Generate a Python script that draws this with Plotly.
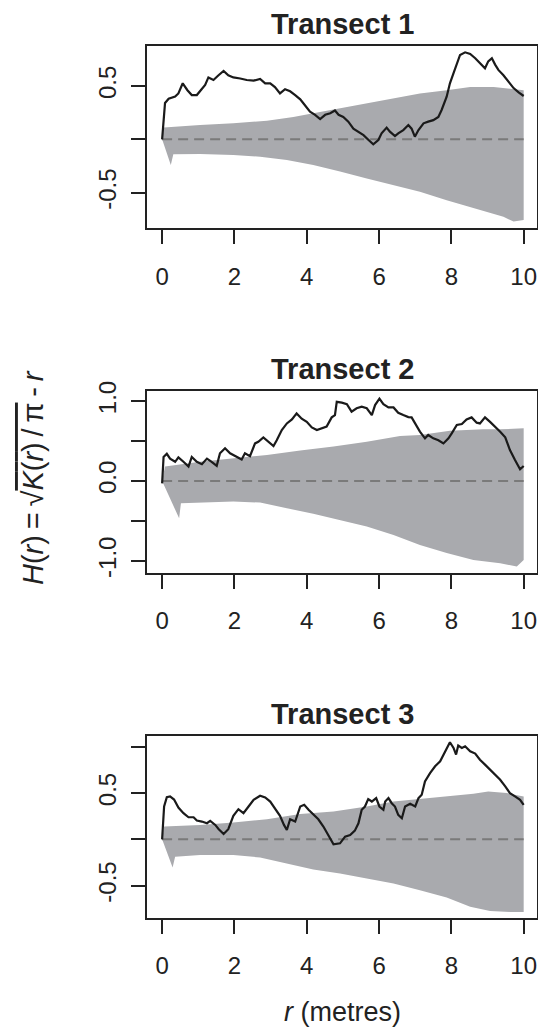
import plotly.graph_objects as go

# ---------------- data ----------------
titles = ["Transect 1", "Transect 2", "Transect 3"]
x_ticks = [0, 2, 4, 6, 8, 10]
x_ticktext = ["0", "2", "4", "6", "8", "10"]

# Transect 1 observed H(r)
r1 = [0, 0.08, 0.18, 0.36, 0.45, 0.57, 0.70, 0.82, 0.96, 1.05, 1.19, 1.28, 1.42, 1.56, 1.70, 1.83, 1.97,
      2.16, 2.34, 2.53, 2.71, 2.85, 2.99, 3.12, 3.26, 3.40, 3.54, 3.68, 3.82, 3.95, 4.09, 4.23, 4.37,
      4.51, 4.65, 4.78, 4.88, 5.01, 5.15, 5.29, 5.43, 5.57, 5.71, 5.84, 5.98, 6.07, 6.21, 6.30, 6.44,
      6.53, 6.67, 6.81, 6.90, 6.99, 7.09, 7.23, 7.36, 7.50, 7.64, 7.73, 7.87, 7.96, 8.06, 8.15, 8.24,
      8.38, 8.52, 8.66, 8.80, 8.93, 9.02, 9.12, 9.21, 9.30, 9.44, 9.58, 9.72, 9.86, 10.0]
h1 = [0, 0.34, 0.38, 0.40, 0.43, 0.525, 0.46, 0.415, 0.415, 0.45, 0.51, 0.58, 0.556, 0.60, 0.64, 0.60, 0.58,
      0.57, 0.556, 0.55, 0.566, 0.525, 0.525, 0.49, 0.43, 0.47, 0.45, 0.415, 0.375, 0.32, 0.26, 0.23, 0.19,
      0.23, 0.244, 0.27, 0.23, 0.21, 0.166, 0.10, 0.072, 0.04, -0.006, -0.047, -0.006, 0.056, 0.11, 0.072, 0.03,
      0.056, 0.087, 0.134, 0.10, 0.025, 0.087, 0.15, 0.166, 0.18, 0.21, 0.275, 0.40, 0.525, 0.62, 0.71, 0.79,
      0.815, 0.80, 0.76, 0.71, 0.666, 0.73, 0.76, 0.70, 0.65, 0.60, 0.54, 0.48, 0.44, 0.406]
# Transect 1 simulation envelope
env1_r_up = [0, 0.05, 1.05, 1.97, 2.9, 3.63, 4.18, 4.92, 5.66, 6.4, 7.13, 7.87, 8.52, 9.17, 9.72, 10]
env1_up = [0, 0.11, 0.134, 0.15, 0.175, 0.21, 0.244, 0.29, 0.34, 0.385, 0.43, 0.46, 0.49, 0.49, 0.47, 0.46]
env1_r_lo = [0, 0.24, 0.31, 1.05, 1.97, 2.71, 3.45, 4.18, 4.92, 5.66, 6.4, 7.13, 7.87, 8.52, 8.98, 9.44, 9.72, 10]
env1_lo = [0, -0.24, -0.14, -0.1375, -0.147, -0.1625, -0.194, -0.24, -0.30, -0.366, -0.43, -0.49, -0.57,
           -0.63, -0.68, -0.725, -0.77, -0.756]

# Transect 2 observed H(r)
r2 = [0, 0.04, 0.13, 0.22, 0.36, 0.45, 0.59, 0.73, 0.82, 0.96, 1.10, 1.24, 1.37, 1.51, 1.60, 1.74, 1.88,
      2.06, 2.20, 2.29, 2.43, 2.57, 2.66, 2.80, 2.94, 3.08, 3.17, 3.31, 3.45, 3.59, 3.72, 3.86, 4.00,
      4.14, 4.28, 4.41, 4.55, 4.69, 4.78, 4.83, 4.97, 5.11, 5.24, 5.38, 5.52, 5.66, 5.80, 5.89, 6.01,
      6.12, 6.26, 6.40, 6.53, 6.67, 6.81, 6.90, 6.99, 7.13, 7.27, 7.36, 7.50, 7.64, 7.78, 7.92, 8.01,
      8.15, 8.29, 8.42, 8.56, 8.70, 8.79, 8.93, 9.07, 9.21, 9.35, 9.49, 9.62, 9.76, 9.90, 10.0]
h2 = [-0.03, 0.30, 0.34, 0.28, 0.24, 0.296, 0.24, 0.18, 0.30, 0.24, 0.21, 0.28, 0.24, 0.19, 0.346, 0.41, 0.346,
      0.30, 0.27, 0.346, 0.31, 0.47, 0.49, 0.546, 0.49, 0.4375, 0.51, 0.6375, 0.72, 0.77, 0.846, 0.78, 0.74,
      0.67, 0.6375, 0.66, 0.68, 0.796, 0.825, 0.99, 0.98, 0.96, 0.867, 0.91, 0.93, 0.91, 0.825, 0.95, 1.03,
      0.96, 0.92, 0.92, 0.854, 0.825, 0.80, 0.796, 0.72, 0.617, 0.533, 0.575, 0.533, 0.51, 0.47, 0.533, 0.596,
      0.70, 0.7125, 0.77, 0.796, 0.73, 0.72, 0.796, 0.74, 0.68, 0.617, 0.546, 0.3875, 0.2625, 0.146, 0.1875]
env2_r_up = [0, 0.08, 1.05, 1.97, 2.9, 3.82, 4.74, 5.66, 6.58, 7.13, 7.96, 8.88, 9.35, 10]
env2_up = [0, 0.18, 0.24, 0.283, 0.325, 0.38, 0.43, 0.49, 0.5625, 0.575, 0.63, 0.646, 0.646, 0.66]
env2_r_lo = [0, 0.47, 0.52, 1.05, 1.97, 2.71, 3.45, 4.18, 4.92, 5.66, 6.4, 7.13, 7.87, 8.61, 9.35, 9.81, 10]
env2_lo = [0, -0.467, -0.28, -0.267, -0.258, -0.27, -0.34, -0.41, -0.4875, -0.57, -0.675, -0.80, -0.90,
           -0.99, -1.03, -1.07, -0.99]

# Transect 3 observed H(r)
r3 = [0, 0.055, 0.13, 0.22, 0.33, 0.45, 0.59, 0.73, 0.87, 0.96, 1.10, 1.24, 1.33, 1.47, 1.56, 1.70, 1.83,
      1.97, 2.11, 2.25, 2.39, 2.53, 2.71, 2.85, 2.99, 3.12, 3.26, 3.37, 3.45, 3.54, 3.68, 3.82, 3.93,
      4.05, 4.18, 4.32, 4.46, 4.60, 4.74, 4.92, 5.06, 5.20, 5.33, 5.43, 5.52, 5.61, 5.70, 5.80, 5.92,
      6.01, 6.12, 6.17, 6.26, 6.35, 6.44, 6.53, 6.63, 6.72, 6.86, 7.00, 7.09, 7.18, 7.27, 7.41, 7.55,
      7.69, 7.78, 7.87, 7.96, 8.06, 8.13, 8.19, 8.29, 8.38, 8.52, 8.66, 8.79, 8.93, 9.07, 9.21, 9.35,
      9.49, 9.62, 9.76, 9.90, 10.0]
h3 = [0, 0.355, 0.457, 0.464, 0.43, 0.344, 0.283, 0.239, 0.239, 0.203, 0.192, 0.174, 0.20, 0.156, 0.112, 0.058, 0.109,
      0.254, 0.326, 0.283, 0.355, 0.428, 0.471, 0.453, 0.409, 0.337, 0.254, 0.156, 0.101, 0.217, 0.192, 0.355, 0.373,
      0.319, 0.275, 0.217, 0.138, 0.036, -0.054, -0.043, 0.029, 0.047, 0.094, 0.174, 0.319, 0.355, 0.435, 0.409, 0.446,
      0.355, 0.319, 0.409, 0.446, 0.391, 0.355, 0.264, 0.228, 0.355, 0.384, 0.355, 0.446, 0.482, 0.627, 0.717, 0.79,
      0.844, 0.917, 0.978, 1.05, 0.989, 0.917, 1.015, 0.989, 1.007, 0.953, 0.928, 0.862, 0.808, 0.754, 0.70, 0.645,
      0.572, 0.50, 0.464, 0.428, 0.373]
env3_r_up = [0, 0.055, 1.05, 1.97, 2.9, 3.82, 4.74, 5.66, 6.4, 7.13, 7.96, 8.61, 9.02, 9.53, 10]
env3_up = [0, 0.138, 0.156, 0.181, 0.217, 0.275, 0.30, 0.355, 0.409, 0.435, 0.464, 0.493, 0.518, 0.50, 0.464]
env3_r_lo = [0, 0.29, 0.36, 1.05, 1.97, 2.71, 3.45, 4.18, 4.92, 5.66, 6.4, 7.13, 7.87, 8.52, 9.07, 9.62, 10]
env3_lo = [0, -0.304, -0.188, -0.17, -0.17, -0.196, -0.26, -0.326, -0.37, -0.424, -0.478, -0.55, -0.63,
           -0.73, -0.775, -0.786, -0.786]

# theoretical reference (CSR) line
ref_r = [0, 10]
ref_h = [0, 0]

# y ticks per panel
y_tickvals = [[-0.5, 0, 0.5], [-1, -0.5, 0, 0.5, 1], [-0.5, 0, 0.5, 1]]
y_ticktext = [["-0.5", "", "0.5"], ["-1.0", "", "0.0", "", "1.0"], ["-0.5", "", "0.5", ""]]

# ---------------- layout / styling ----------------
W, H = 538, 1030
FONT = "Liberation Sans, Arial, Helvetica, sans-serif"
INK = "#222222"
GREY_FILL = "#a9aaae"
BOX_L, BOX_R = 147.3, 536.7
boxes = [(45.7, 228.0), (391.0, 572.7), (736.0, 917.7)]   # (top, bottom) px
y_ranges = [[-0.83, 0.877], [-1.148, 1.126], [-0.848, 1.118]]
x_range = [-0.41, 10.36]

series = [
    (r1, h1, env1_r_up, env1_up, env1_r_lo, env1_lo),
    (r2, h2, env2_r_up, env2_up, env2_r_lo, env2_lo),
    (r3, h3, env3_r_up, env3_up, env3_r_lo, env3_lo),
]

fig = go.Figure()
layout_axes = {}
annotations = []
xdom = [BOX_L / W, BOX_R / W]

for i, (r, h, rup, up, rlo, lo) in enumerate(series):
    xa = "x" if i == 0 else f"x{i+1}"
    ya = "y" if i == 0 else f"y{i+1}"
    env_x = list(rup) + list(reversed(rlo))
    env_y = list(up) + list(reversed(lo))
    fig.add_trace(go.Scatter(x=env_x, y=env_y, fill="toself", fillcolor=GREY_FILL,
                             mode="lines", line=dict(width=0, color=GREY_FILL),
                             xaxis=xa, yaxis=ya, hoverinfo="skip", showlegend=False))
    fig.add_trace(go.Scatter(x=ref_r, y=ref_h, mode="lines",
                             line=dict(color="#7a7a7a", width=2, dash="10px,6px"),
                             xaxis=xa, yaxis=ya, hoverinfo="skip", showlegend=False))
    fig.add_trace(go.Scatter(x=r, y=h, mode="lines",
                             line=dict(color="#1a1a1a", width=2.2),
                             xaxis=xa, yaxis=ya, showlegend=False))
    top, bot = boxes[i]
    ydom = [1 - bot / H, 1 - top / H]
    xkey = "xaxis" if i == 0 else f"xaxis{i+1}"
    ykey = "yaxis" if i == 0 else f"yaxis{i+1}"
    common = dict(showline=True, linecolor=INK, linewidth=1.7, mirror=True, automargin=False,
                  showgrid=False, zeroline=False, ticks="outside", ticklen=14,
                  tickwidth=1.7, tickcolor=INK,
                  tickfont=dict(family=FONT, size=24, color=INK))
    layout_axes[xkey] = dict(domain=xdom, range=x_range, anchor=ya,
                             tickmode="array", tickvals=x_ticks, ticktext=x_ticktext,
                             ticklabelstandoff=12, **common)
    layout_axes[ykey] = dict(domain=ydom, range=y_ranges[i], anchor=xa,
                             tickmode="array", tickvals=y_tickvals[i], ticktext=y_ticktext[i],
                             tickangle=-90, ticklabelstandoff=6, **common)
    annotations.append(dict(text=f"<b>{titles[i]}</b>", xref="paper", yref="paper",
                            x=(xdom[0] + xdom[1]) / 2, y=1 - (top - 4) / H,
                            xanchor="center", yanchor="bottom", showarrow=False,
                            font=dict(family=FONT, size=29, color=INK)))

# axis titles
annotations.append(dict(text="<i>r</i> (metres)", xref="paper", yref="paper",
                        x=(xdom[0] + xdom[1]) / 2, y=0.0005,
                        xanchor="center", yanchor="bottom", showarrow=False,
                        font=dict(family=FONT, size=27, color=INK)))
annotations.append(dict(
    text="<i>H</i>(<i>r</i>)\u2009=\u2009√<span style='text-decoration:overline'><i>K</i>(<i>r</i>)\u2009/\u2009π</span>\u2009-\u2009<i>r</i>",
    xref="paper", yref="paper", x=33 / W, y=1 - 478 / H,
    xanchor="center", yanchor="middle", textangle=-90, showarrow=False,
    font=dict(family=FONT, size=29, color=INK)))

fig.update_layout(width=W, height=H,
                  margin=dict(l=0, r=0, t=0, b=0, autoexpand=False),
                  paper_bgcolor="white", plot_bgcolor="white",
                  showlegend=False, annotations=annotations, **layout_axes)

fig.write_html("out.html")
